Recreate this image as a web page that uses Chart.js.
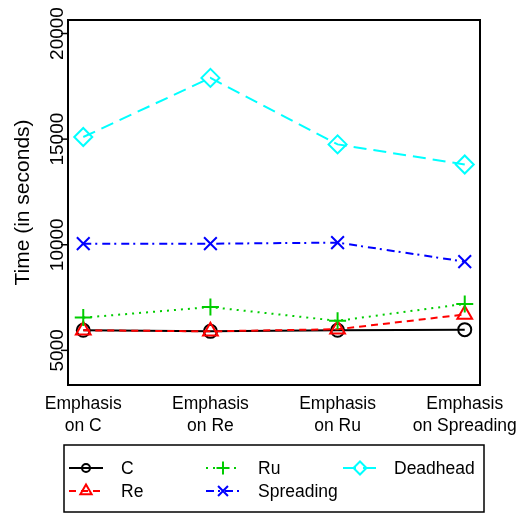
<!DOCTYPE html>
<html>
<head>
<meta charset="utf-8">
<script src="https://cdn.jsdelivr.net/npm/chart.js@4.4.1/dist/chart.umd.min.js"></script>
<style>
  html, body { margin: 0; padding: 0; background: #fff; }
</style>
</head>
<body>
<canvas id="chart" width="523" height="514"></canvas>
<script>
// values
const categories = [["Emphasis", "on C"], ["Emphasis", "on Re"], ["Emphasis", "on Ru"], ["Emphasis", "on Spreading"]];
const seriesNames = ["C", "Re", "Ru", "Spreading", "Deadhead"];
const cValues = [5950, 5900, 5950, 5980];
const reValues = [5950, 5900, 6000, 6700];
const ruValues = [6550, 7050, 6400, 7200];
const spreadingValues = [10050, 10050, 10100, 9200];
const deadheadValues = [15100, 17900, 14750, 13800];
const yTicks = [5000, 10000, 15000, 20000];

const FONT = '"Liberation Sans", Arial, sans-serif';

const styles = [
  { color: "#000000", dash: [], point: "circle", r: 6.5, lr: 4 },
  { color: "#ff0000", dash: [7, 5], point: "triangle", r: 8.5, lr: 6.5 },
  { color: "#00cc00", dash: [2, 5], point: "cross", r: 8.5, lr: 6.5 },
  { color: "#0000ff", dash: [8, 4, 2, 5], point: "crossRot", r: 9, lr: 7 },
  { color: "#00ffff", dash: [13, 7], point: "rectRot", r: 9, lr: 6.5 }
];

const allValues = [cValues, reValues, ruValues, spreadingValues, deadheadValues];

const datasets = allValues.map((vals, k) => ({
  label: seriesNames[k],
  data: vals.map((v, i) => ({ x: i + 1, y: v })),
  borderColor: styles[k].color,
  borderWidth: 2,
  borderDash: styles[k].dash,
  pointStyle: styles[k].point,
  pointRadius: styles[k].r,
  pointBorderWidth: 2,
  pointBorderColor: styles[k].color,
  pointBackgroundColor: "rgba(0,0,0,0)",
  tension: 0,
  fill: false,
  order: 5 - k,
  clip: false
}));

const decorPlugin = {
  id: "decor",
  afterDraw(chart) {
    const ctx = chart.ctx;
    const a = chart.chartArea;
    const xs = chart.scales.x, ys = chart.scales.y;
    ctx.save();
    ctx.setLineDash([]);
    ctx.strokeStyle = "#000";
    ctx.fillStyle = "#000";

    // plot box
    ctx.lineWidth = 2;
    ctx.strokeRect(a.left, a.top, a.right - a.left, a.bottom - a.top);

    // y ticks + rotated labels
    ctx.lineWidth = 1.5;
    ctx.font = "19px " + FONT;
    ctx.textAlign = "center";
    ctx.textBaseline = "alphabetic";
    yTicks.forEach(v => {
      const py = ys.getPixelForValue(v);
      ctx.beginPath();
      ctx.moveTo(a.left - 7, py);
      ctx.lineTo(a.left, py);
      ctx.stroke();
      ctx.save();
      ctx.translate(63, py);
      ctx.rotate(-Math.PI / 2);
      ctx.fillText(String(v), 0, 0);
      ctx.restore();
    });

    // y title
    ctx.save();
    ctx.font = "21px " + FONT;
    ctx.translate(29, (a.top + a.bottom) / 2);
    ctx.rotate(-Math.PI / 2);
    ctx.fillText("Time (in seconds)", 0, 0);
    ctx.restore();

    // x labels
    ctx.font = "17.5px " + FONT;
    categories.forEach((lines, i) => {
      const px = xs.getPixelForValue(i + 1);
      lines.forEach((t, j) => ctx.fillText(t, px, 409 + j * 21.5));
    });

    // legend
    ctx.lineWidth = 1.5;
    ctx.strokeRect(64, 445, 420, 67);
    const cols = [{ lx: 69, tx: 121 }, { lx: 206, tx: 258 }, { lx: 343, tx: 394 }];
    const rows = [468, 491];
    ctx.textAlign = "left";
    chart.data.datasets.forEach((ds, i) => {
      const col = cols[Math.floor(i / 2)], ry = rows[i % 2];
      const st = styles[i];
      ctx.strokeStyle = st.color;
      ctx.lineWidth = 2;
      ctx.setLineDash(st.dash);
      ctx.beginPath();
      ctx.moveTo(col.lx, ry);
      ctx.lineTo(col.lx + 34, ry);
      ctx.stroke();
      ctx.setLineDash([]);
      ctx.fillStyle = "rgba(0,0,0,0)";
      Chart.helpers.drawPoint(ctx, { pointStyle: st.point, radius: st.lr, borderWidth: 2, rotation: 0 }, col.lx + 17, ry);
      ctx.fillStyle = "#000";
      ctx.fillText(ds.label, col.tx, ry + 5.5);
    });
    ctx.restore();
  }
};

new Chart(document.getElementById("chart"), {
  type: "line",
  data: { datasets },
  options: {
    responsive: false,
    devicePixelRatio: 1,
    animation: false,
    layout: { padding: { left: 68, top: 20, right: 43, bottom: 129 } },
    scales: {
      x: { type: "linear", min: 0.88, max: 4.12, display: false },
      y: { type: "linear", min: 3360, max: 20640, display: false }
    },
    plugins: { legend: { display: false }, tooltip: { enabled: false } }
  },
  plugins: [decorPlugin]
});
</script>
</body>
</html>
